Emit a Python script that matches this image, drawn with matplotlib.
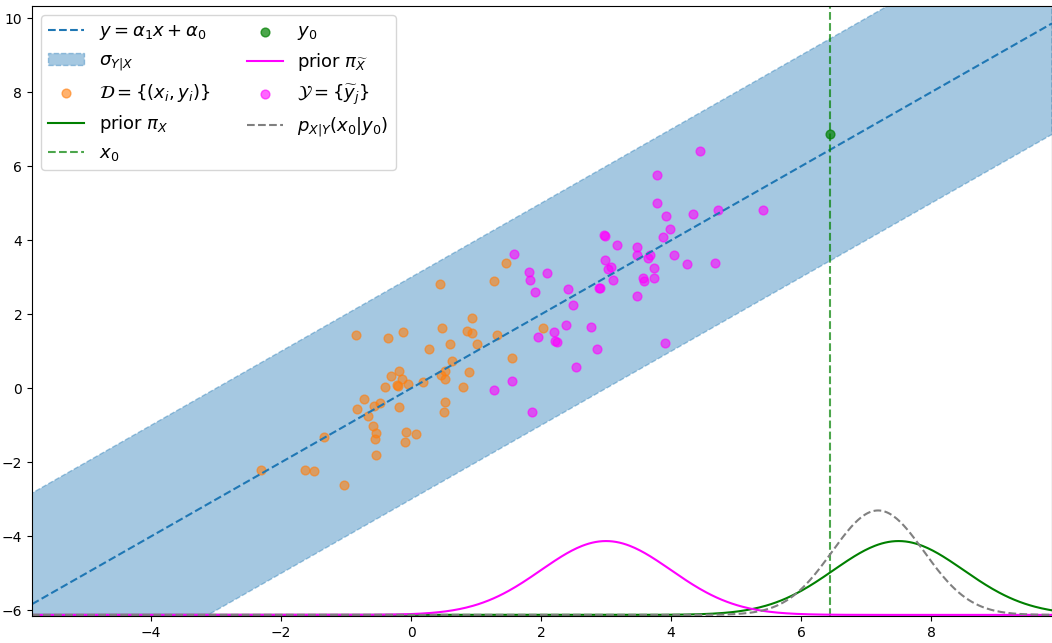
import numpy as np
import matplotlib
matplotlib.use("Agg")
import matplotlib.pyplot as plt

# regression line y = a1*x + a0 and noise band
a1, a0 = 1.0, 0.0
band = 3.0

# observed point
x0, y0 = 6.45, 6.87

# gaussian curves (mean, std) drawn along the bottom
prior_x = (7.5, 1.0)
prior_xt = (3.0, 1.0)
post = (7.185, 0.707)
curve_scale = 5.0

xlim = (-5.83, 9.86)
ylim = (-6.15, 10.33)
base = -6.12

# training pairs D
d_x = [-0.85, -0.36, -0.31, -0.40, -0.73, -0.48, -0.57, -0.83, -0.66, -0.58,
       -0.54, -0.55, -1.34, -0.54, -2.31, -1.63, -1.49, -1.03, 0.45, 1.28,
       0.94, 0.48, 0.86, 0.94, 1.33, -0.13, 0.60, 1.01, 0.28, 1.55,
       0.63, 0.89, 0.53, 0.46, 0.52, -0.19, -0.14, -0.20, -0.05, 0.18,
       0.80, -0.18, 0.52, 0.51, -0.08, 0.07, -0.10, 1.46, 2.03, -0.21]
d_y = [1.45, 1.36, 0.33, 0.05, -0.29, -0.39, -0.48, -0.57, -0.75, -1.01,
       -1.21, -1.37, -1.31, -1.79, -2.21, -2.21, -2.24, -2.62, 2.83, 2.90,
       1.89, 1.64, 1.54, 1.49, 1.45, 1.52, 1.21, 1.19, 1.07, 0.83,
       0.74, 0.45, 0.46, 0.37, 0.26, 0.46, 0.26, 0.07, 0.11, 0.16,
       0.04, -0.50, -0.37, -0.63, -1.18, -1.24, -1.46, 3.40, 1.64, 0.09]

# new points Y
yt_x = [4.45, 3.79, 3.79, 3.92, 4.34, 4.72, 5.41, 3.98, 3.87, 2.97,
        2.98, 3.17, 3.48, 3.48, 3.65, 3.68, 4.04, 4.25, 4.67, 2.99,
        3.07, 3.03, 3.11, 2.89, 2.91, 3.74, 3.74, 3.57, 3.59, 3.47,
        1.59, 1.81, 2.09, 1.83, 1.90, 2.42, 2.49, 2.38, 2.77, 2.20,
        1.96, 2.22, 2.24, 2.86, 3.90, 2.54, 1.56, 1.28, 1.86]
yt_y = [6.40, 5.76, 5.02, 4.66, 4.72, 4.83, 4.83, 4.30, 4.09, 4.13,
        4.11, 3.87, 3.81, 3.61, 3.51, 3.61, 3.59, 3.37, 3.40, 3.48,
        3.29, 3.23, 2.93, 2.72, 2.70, 3.24, 2.97, 2.98, 2.89, 2.50,
        3.64, 3.14, 3.12, 2.93, 2.61, 2.68, 2.24, 1.71, 1.67, 1.53,
        1.40, 1.27, 1.25, 1.07, 1.22, 0.57, 0.19, -0.05, -0.65]


def gauss(x, m, s):
    return np.exp(-0.5 * ((x - m) / s) ** 2) / (s * np.sqrt(2 * np.pi))


fig = plt.figure(figsize=(10.52, 6.43), dpi=100)
ax = fig.add_axes([32 / 1052, 1 - 616 / 643, 1020 / 1052, 610 / 643])

xs = np.linspace(xlim[0], xlim[1], 600)
line = a1 * xs + a0

ax.plot(xs, line, '--', color='tab:blue', label=r'$y=\alpha_1 x+\alpha_0$')
ax.fill_between(xs, line - band, line + band, color='tab:blue', alpha=0.4,
                linestyle='--', label=r'$\sigma_{Y|X}$')
ax.scatter(d_x, d_y, color='tab:orange', alpha=0.6, s=40,
           label=r'$\mathcal{D}=\{(x_i,y_i)\}$')
ax.plot(xs, base + curve_scale * gauss(xs, *prior_x), color='green',
        label=r'prior $\pi_X$')
ax.axvline(x0, color='green', linestyle='--', alpha=0.7, label=r'$x_0$')
ax.scatter([x0], [y0], color='green', alpha=0.7, s=40, label=r'$y_0$')
ax.plot(xs, base + curve_scale * gauss(xs, *prior_xt), color='magenta',
        label=r'prior $\pi_{\widetilde{X}}$')
ax.scatter(yt_x, yt_y, color='magenta', alpha=0.6, s=40,
           label=r'$\mathcal{Y}=\{\widetilde{y}_j\}$')
ax.plot(xs, base + curve_scale * gauss(xs, *post), '--', color='gray',
        label=r'$p_{X|Y}(x_0|y_0)$')

ax.set_xlim(*xlim)
ax.set_ylim(*ylim)
ax.legend(loc='upper left', ncol=2, fontsize=13)

fig.savefig("out.png", dpi=100)
